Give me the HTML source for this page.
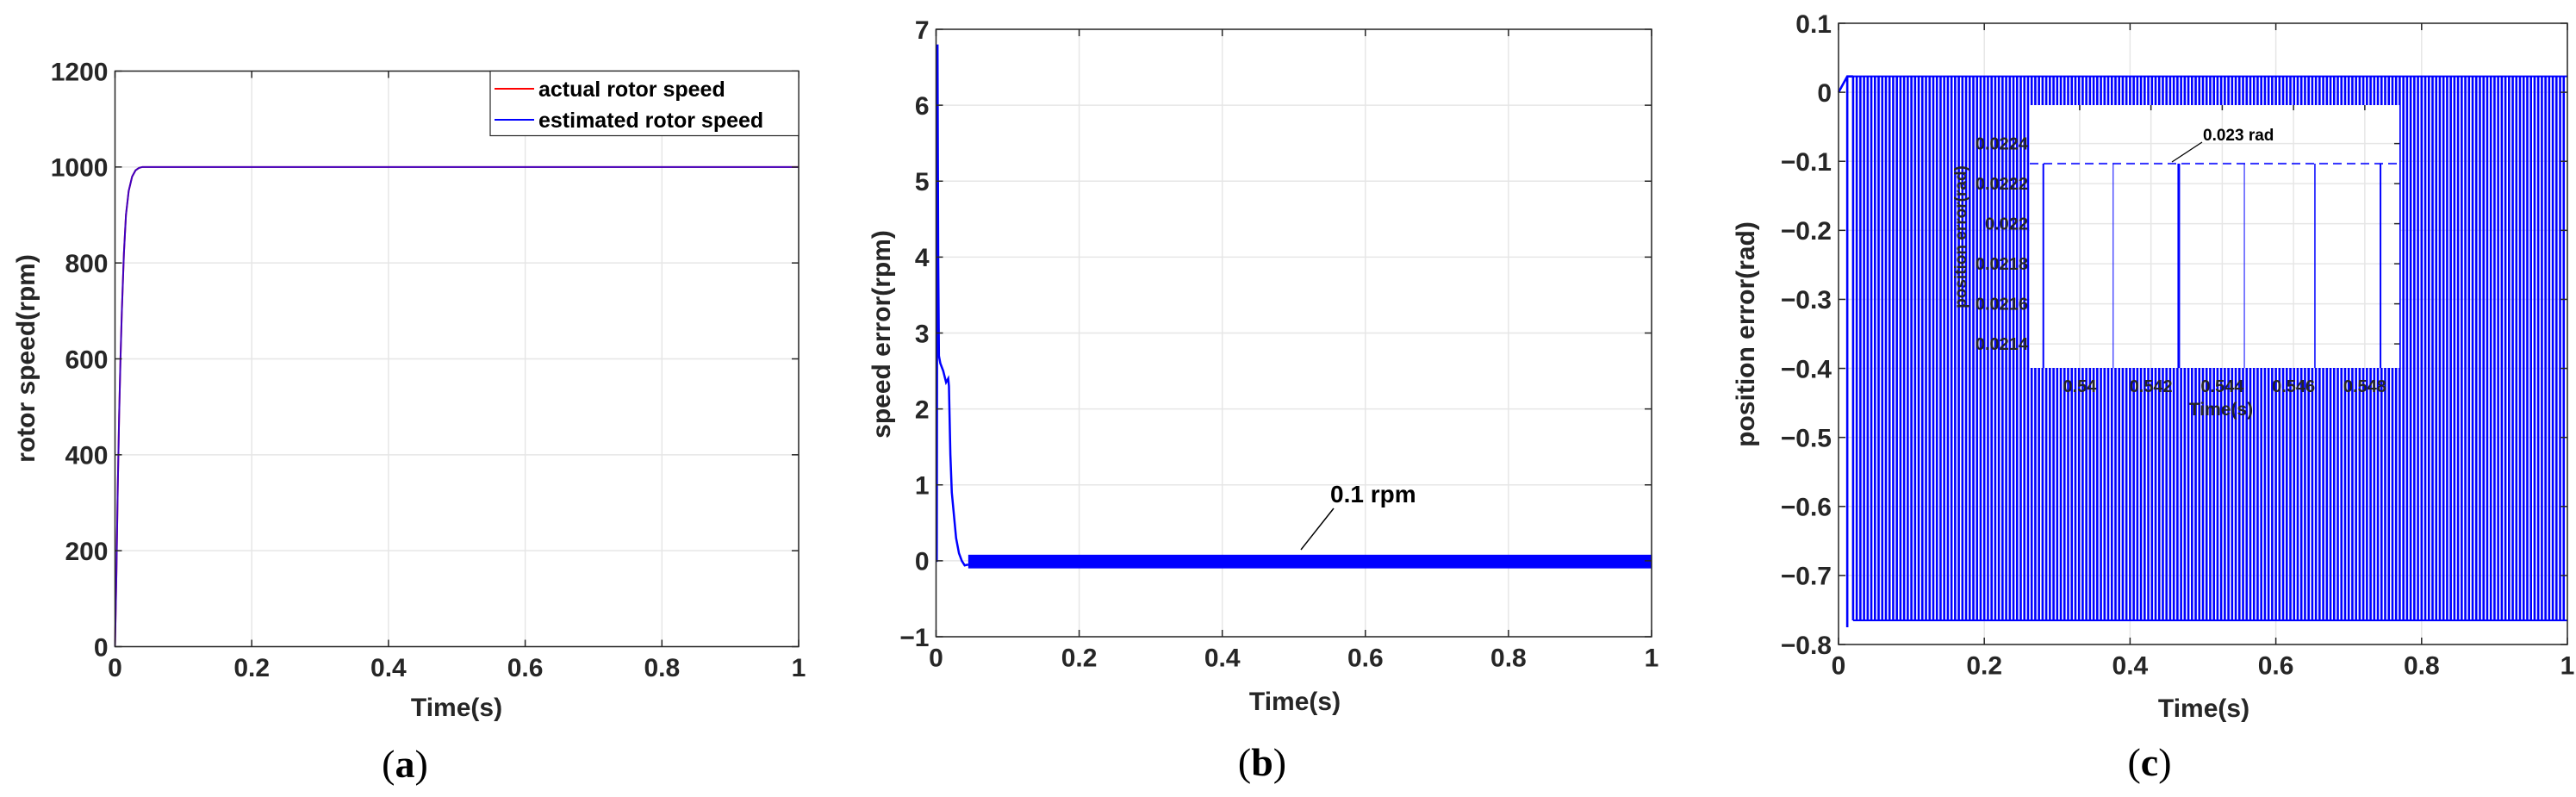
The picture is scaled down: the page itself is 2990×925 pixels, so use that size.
<!DOCTYPE html>
<html><head><meta charset="utf-8">
<style>
html,body{margin:0;padding:0;background:#fff;}
svg{display:block;font-family:"Liberation Sans",Arial,sans-serif;}
.tick{font-size:30px;font-weight:bold;fill:#262626;}
.title{font-size:30px;font-weight:bold;fill:#262626;}
.cap{font-family:"Liberation Serif",serif;font-size:46px;fill:#000;}
.grid{stroke:#e6e6e6;stroke-width:1.5;}
.itick{font-size:20px;font-weight:bold;fill:#262626;}
</style></head>
<body>
<svg id="fig" width="2990" height="925" viewBox="0 0 2990 925"></svg>
<script>
// ---- Panel (a) data ----
const aTime = [0,0.002,0.004,0.006,0.008,0.01,0.013,0.016,0.02,0.025,0.03,0.035,0.04,0.05,1];
const aActual = [0,150,330,480,600,700,820,900,950,980,993,998,1000,1000,1000];
const aEstimated = [0,150,330,480,600,700,820,900,950,980,993,998,1000,1000,1000];
const aYTicks = [0,200,400,600,800,1000,1200];
const xTicks = [0,0.2,0.4,0.6,0.8,1];
const xTickLabels = ["0","0.2","0.4","0.6","0.8","1"];
// ---- Panel (b) data ----
const bTime = [0,0.001,0.002,0.003,0.004,0.006,0.01,0.014,0.017,0.018,0.02,0.022,0.025,0.028,0.032,0.036,0.04,0.045];
const bErr = [0,0,6.8,4.0,2.7,2.6,2.5,2.35,2.4,2.3,1.4,0.9,0.6,0.3,0.1,0.0,-0.06,-0.05];
const bBandUpper = 0.08;
const bBandLower = -0.1;
const bYTicks = [-1,0,1,2,3,4,5,6,7];
// ---- Panel (c) data ----
const cHigh = 0.023;
const cLow = -0.765;
const cStart = 0.02;
const cPeriod = 0.005;
const cYTicks = [0.1,0,-0.1,-0.2,-0.3,-0.4,-0.5,-0.6,-0.7,-0.8];
const cYTickLabels = ["0.1","0","\u22120.1","\u22120.2","\u22120.3","\u22120.4","\u22120.5","\u22120.6","\u22120.7","\u22120.8"];
// ---- Inset data ----
const insetLevel = 0.0223;
const insetDrops = [0.53898,0.54094,0.54278,0.54462,0.5466,0.54844];
const insetDropWidth = [2,1,3,1,1.5,2];
const insetXTicks = [0.54,0.542,0.544,0.546,0.548];
const insetXTickLabels = ["0.54","0.542","0.544","0.546","0.548"];
const insetYTicks = [0.0214,0.0216,0.0218,0.022,0.0222,0.0224];
const insetYTickLabels = ["0.0214","0.0216","0.0218","0.022","0.0222","0.0224"];

const NS="http://www.w3.org/2000/svg";
const svg=document.getElementById('fig');
function el(tag,attrs,parent,text){const e=document.createElementNS(NS,tag);for(const k in attrs)e.setAttribute(k,attrs[k]);if(text!==undefined)e.textContent=text;(parent||svg).appendChild(e);return e;}
function scale(d0,d1,r0,r1){return v=>r0+(v-d0)/(d1-d0)*(r1-r0);}

function axes(g,box,xs,ys,xt,xl,yt){
  xt.forEach(v=>{const l=el('line',{x1:xs(v),x2:xs(v),y1:box.t,y2:box.b,class:'grid'},g);
    
    });
  yt.forEach(v=>{const l=el('line',{x1:box.l,x2:box.r,y1:ys(v),y2:ys(v),class:'grid'},g);
    
    });
}
function frame(g,box,xs,ys,xt,xl,yt,yl,cls,fs,tl){
  const r=el('rect',{x:box.l,y:box.t,width:box.r-box.l,height:box.b-box.t,fill:'none',stroke:'#262626','stroke-width':1.5},g);
  
  
  xt.forEach((v,i)=>{
    el('line',{x1:xs(v),x2:xs(v),y1:box.b,y2:box.b-tl,stroke:'#262626','stroke-width':1.5},g);
    el('line',{x1:xs(v),x2:xs(v),y1:box.t,y2:box.t+tl,stroke:'#262626','stroke-width':1.5},g);
    const t=el('text',{x:xs(v),y:box.b+fs*1.15,'text-anchor':'middle',class:cls},g,xl[i]);
    
    
  });
  yt.forEach((v,i)=>{
    el('line',{x1:box.l,x2:box.l+tl,y1:ys(v),y2:ys(v),stroke:'#262626','stroke-width':1.5},g);
    el('line',{x1:box.r,x2:box.r-tl,y1:ys(v),y2:ys(v),stroke:'#262626','stroke-width':1.5},g);
    const t=el('text',{x:box.l-8,y:ys(v)+fs*0.36,'text-anchor':'end',class:cls},g,yl[i]);
    
    
  });
}
function pathFrom(xsArr,ysArr,xs,ys){return xsArr.map((v,i)=>(i?'L':'M')+xs(v).toFixed(2)+','+ys(ysArr[i]).toFixed(2)).join('');}

// ===== Panel A =====
(function(){
  const g=el('g',{});
  
  
  const box={l:133.5,r:927,t:82.5,b:750.5};
  const xs=scale(0,1,box.l,box.r), ys=scale(0,1200,box.b,box.t);
  axes(g,box,xs,ys,xTicks,xTickLabels,aYTicks);
  const p1=el('path',{d:pathFrom(aTime,aActual,xs,ys),fill:'none',stroke:'#ff0000','stroke-width':2},g);
  
  
  const p2=el('path',{d:pathFrom(aTime,aEstimated,xs,ys),fill:'none',stroke:'#0000ff','stroke-width':2,'stroke-opacity':0.75},g);
  
  
  frame(g,box,xs,ys,xTicks,xTickLabels,aYTicks,aYTicks.map(String),'tick',30,8);
  const lg=el('g',{},g);
  
  
  el('rect',{x:569,y:82.5,width:358,height:75,fill:'#fff',stroke:'#262626','stroke-width':1.2},lg);
  el('line',{x1:574,x2:620,y1:103,y2:103,stroke:'#ff0000','stroke-width':2},lg);
  const t1=el('text',{x:625,y:112,style:'font-size:25px;font-weight:bold;fill:#000'},lg,'actual rotor speed');
  
  
  el('line',{x1:574,x2:620,y1:139,y2:139,stroke:'#0000ff','stroke-width':2},lg);
  const t2=el('text',{x:625,y:148,style:'font-size:25px;font-weight:bold;fill:#000'},lg,'estimated rotor speed');
  
  
  const xt=el('text',{x:530,y:831,'text-anchor':'middle',class:'title'},g,'Time(s)');
  
  
  const yt=el('text',{x:0,y:0,'text-anchor':'middle',class:'title',transform:'translate(40,416) rotate(-90)'},g,'rotor speed(rpm)');
  
  
  const c=el('text',{x:470,y:902,'text-anchor':'middle',class:'cap'},g,'');
  
  
  el('tspan',{},c,'(');el('tspan',{'font-weight':'bold'},c,'a');el('tspan',{},c,')');
})();

// ===== Panel B =====
(function(){
  const g=el('g',{});
  
  
  const box={l:1086.5,r:1917,t:34,b:739};
  const xs=scale(0,1,box.l,box.r), ys=scale(-1,7,box.b,box.t);
  axes(g,box,xs,ys,xTicks,xTickLabels,bYTicks);
  const band=el('rect',{x:xs(bTime[bTime.length-1]),y:ys(bBandUpper),width:xs(1)-xs(bTime[bTime.length-1]),height:ys(bBandLower)-ys(bBandUpper),fill:'#0000ff'},g);
  
  
  const p=el('path',{d:pathFrom(bTime,bErr,xs,ys),fill:'none',stroke:'#0000ff','stroke-width':2.5},g);
  
  
  frame(g,box,xs,ys,xTicks,xTickLabels,bYTicks,bYTicks.map(v=>v<0?'\u2212'+(-v):String(v)),'tick',30,8);
  const an=el('line',{x1:1548,y1:590,x2:1510,y2:638,stroke:'#000','stroke-width':1.5},g);
  
  
  const at=el('text',{x:1544,y:583,style:'font-size:28px;font-weight:bold;fill:#000'},g,'0.1 rpm');
  
  
  const xt=el('text',{x:1503,y:824,'text-anchor':'middle',class:'title'},g,'Time(s)');
  
  
  const yt=el('text',{x:0,y:0,'text-anchor':'middle',class:'title',transform:'translate(1033,388) rotate(-90)'},g,'speed error(rpm)');
  
  
  const c=el('text',{x:1465,y:900,'text-anchor':'middle',class:'cap'},g,'');
  
  
  el('tspan',{},c,'(');el('tspan',{'font-weight':'bold'},c,'b');el('tspan',{},c,')');
})();

// ===== Panel C =====
(function(){
  const g=el('g',{});
  
  
  const box={l:2134,r:2980,t:27,b:748};
  const xs=scale(0,1,box.l,box.r), ys=scale(-0.8,0.1,box.b,box.t);
  axes(g,box,xs,ys,xTicks,xTickLabels,cYTicks);
  let d='M'+xs(0)+','+ys(0)+'L'+xs(cStart*0.6)+','+ys(cHigh)+'L'+xs(cStart)+','+ys(cHigh);
  d+='M'+xs(cStart*0.6)+','+ys(cHigh)+'L'+xs(cStart*0.6)+','+ys(cLow-0.01);
  for(let t=cStart;t<=1;t+=cPeriod){d+='M'+xs(t).toFixed(2)+','+ys(cHigh)+'L'+xs(t).toFixed(2)+','+ys(cLow);}
  const p=el('path',{d:d,fill:'none',stroke:'#0000ff','stroke-width':2.6},g);
  
  
  el('line',{x1:xs(cStart),x2:xs(1),y1:ys(cHigh),y2:ys(cHigh),stroke:'#0000ff','stroke-width':2},g);
  el('line',{x1:xs(cStart),x2:xs(1),y1:ys(cLow),y2:ys(cLow),stroke:'#0000ff','stroke-width':2},g);
  frame(g,box,xs,ys,xTicks,xTickLabels,cYTicks,cYTickLabels,'tick',30,8);
  const xt=el('text',{x:2558,y:832,'text-anchor':'middle',class:'title'},g,'Time(s)');
  
  
  const yt=el('text',{x:0,y:0,'text-anchor':'middle',class:'title',transform:'translate(2036,388) rotate(-90)'},g,'position error(rad)');
  
  
  const c=el('text',{x:2495,y:900,'text-anchor':'middle',class:'cap'},g,'');
  
  
  el('tspan',{},c,'(');el('tspan',{'font-weight':'bold'},c,'c');el('tspan',{},c,')');

  // Inset
  const ig=el('g',{},g);
  
  
  const ib={l:2356,r:2785,t:122,b:427};
  const ixs=scale(0.5386,0.54897,ib.l,ib.r), iys=scale(0.02128,0.022592,ib.b,ib.t);
  el('rect',{x:ib.l,y:ib.t,width:ib.r-ib.l,height:ib.b-ib.t,fill:'#fff'},ig);
  axes(ig,ib,ixs,iys,insetXTicks,insetXTickLabels,insetYTicks);
  const lv=el('line',{x1:ib.l,x2:ib.r,y1:iys(insetLevel),y2:iys(insetLevel),stroke:'#0000ff','stroke-width':2,'stroke-dasharray':'10,6','stroke-opacity':0.8},ig);
  
  
  insetDrops.forEach((v,i)=>{
    const l=el('line',{x1:ixs(v),x2:ixs(v),y1:iys(insetLevel),y2:ib.b,stroke:'#0000ff','stroke-width':insetDropWidth[i]},ig);
    
    
  });
  insetYTicks.forEach((v,i)=>{
    el('line',{x1:ib.r,x2:ib.r-6,y1:iys(v),y2:iys(v),stroke:'#262626','stroke-width':1.5},ig);
    const t=el('text',{x:ib.l-2,y:iys(v)+7,'text-anchor':'end',class:'itick'},ig,insetYTickLabels[i]);
    
    
  });
  insetXTicks.forEach((v,i)=>{
    el('line',{x1:ixs(v),x2:ixs(v),y1:ib.t,y2:ib.t+6,stroke:'#262626','stroke-width':1.5},ig);
    const t=el('text',{x:ixs(v),y:455,'text-anchor':'middle',class:'itick'},ig,insetXTickLabels[i]);
    
    
  });
  const ixt=el('text',{x:2578,y:482,'text-anchor':'middle',style:'font-size:21px;font-weight:bold;fill:#262626'},ig,'Time(s)');
  
  
  const iyt=el('text',{x:0,y:0,'text-anchor':'middle',style:'font-size:19px;font-weight:bold;fill:#262626',transform:'translate(2282,275) rotate(-90)'},ig,'position error(rad)');
  
  
  const al=el('line',{x1:2521,y1:188,x2:2556,y2:165,stroke:'#000','stroke-width':1.3},ig);
  
  
  const at=el('text',{x:2557,y:163,style:'font-size:19px;font-weight:bold;fill:#000'},ig,'0.023 rad');
  
  
})();
</script>
</body></html>
